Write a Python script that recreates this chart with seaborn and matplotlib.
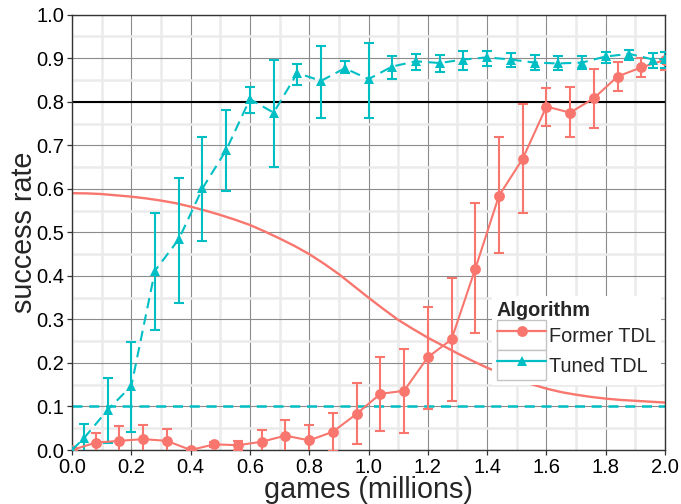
import numpy as np
import pandas as pd
import matplotlib
matplotlib.use("Agg")
import matplotlib.pyplot as plt
from matplotlib.lines import Line2D
from matplotlib.patches import Rectangle
from matplotlib.legend_handler import HandlerLine2D
from matplotlib.ticker import MultipleLocator, FormatStrFormatter
import seaborn as sns

# success rate, games in millions
former_games = [0.00, 0.08, 0.16, 0.24, 0.32, 0.40, 0.48, 0.56, 0.64, 0.72, 0.80, 0.88, 0.96,
                1.04, 1.12, 1.20, 1.28, 1.36, 1.44, 1.52, 1.60, 1.68, 1.76, 1.84, 1.92, 2.00]
former_rate = [0.000, 0.017, 0.021, 0.025, 0.021, 0.000, 0.013, 0.011, 0.019, 0.033, 0.022, 0.042, 0.083,
               0.129, 0.136, 0.213, 0.254, 0.416, 0.584, 0.669, 0.789, 0.775, 0.808, 0.858, 0.879, 0.896]
former_low = [0.000, -0.006, -0.012, -0.007, -0.006, 0.000, 0.007, 0.001, -0.007, -0.004, -0.014, -0.002, 0.014,
              0.044, 0.038, 0.095, 0.113, 0.268, 0.452, 0.544, 0.744, 0.718, 0.739, 0.825, 0.858, 0.873]
former_high = [0.000, 0.040, 0.054, 0.057, 0.048, 0.000, 0.019, 0.021, 0.045, 0.070, 0.058, 0.086, 0.153,
               0.214, 0.232, 0.329, 0.394, 0.567, 0.718, 0.795, 0.831, 0.833, 0.875, 0.891, 0.900, 0.915]

tuned_games = [0.00, 0.04, 0.12, 0.20, 0.28, 0.36, 0.44, 0.52, 0.60, 0.68, 0.76, 0.84, 0.92, 1.00,
               1.08, 1.16, 1.24, 1.32, 1.40, 1.48, 1.56, 1.64, 1.72, 1.80, 1.88, 1.96, 2.00]
tuned_rate = [0.000, 0.027, 0.092, 0.147, 0.412, 0.484, 0.601, 0.689, 0.806, 0.775, 0.866, 0.848, 0.877, 0.852,
              0.881, 0.893, 0.889, 0.897, 0.902, 0.897, 0.890, 0.888, 0.890, 0.904, 0.910, 0.897, 0.898]
tuned_low = [0.000, -0.006, 0.015, 0.042, 0.276, 0.337, 0.481, 0.595, 0.774, 0.649, 0.839, 0.762, 0.865, 0.762,
             0.853, 0.874, 0.868, 0.873, 0.882, 0.879, 0.872, 0.872, 0.875, 0.890, 0.895, 0.877, 0.878]
tuned_high = [0.000, 0.060, 0.166, 0.247, 0.544, 0.625, 0.718, 0.780, 0.835, 0.896, 0.887, 0.929, 0.894, 0.934,
              0.905, 0.910, 0.908, 0.917, 0.917, 0.913, 0.908, 0.906, 0.905, 0.915, 0.919, 0.911, 0.915]

# smooth reference curve, read every 0.05
curve_games = [0.00, 0.05, 0.10, 0.15, 0.20, 0.25, 0.30, 0.35, 0.40, 0.45, 0.50, 0.55, 0.60, 0.65,
               0.70, 0.75, 0.80, 0.85, 0.90, 0.95, 1.00, 1.05, 1.10, 1.15, 1.20, 1.25, 1.30, 1.35,
               1.40, 1.45, 1.50, 1.55, 1.60, 1.65, 1.70, 1.75, 1.80, 1.85, 1.90, 1.95, 2.00]
curve_rate = [0.590, 0.5895, 0.588, 0.585, 0.582, 0.578, 0.573, 0.567, 0.559, 0.550, 0.540, 0.529, 0.517, 0.502,
              0.486, 0.469, 0.450, 0.428, 0.404, 0.377, 0.350, 0.324, 0.299, 0.278, 0.258, 0.240, 0.222, 0.205,
              0.189, 0.175, 0.162, 0.151, 0.141, 0.133, 0.127, 0.122, 0.118, 0.115, 0.113, 0.111, 0.109]

target_rate = 0.8
baseline_rate = 0.1

RED = "#F8766D"
CYAN = "#00BFC4"

sns.set_style("white")
plt.rcParams["font.family"] = ["Liberation Sans", "DejaVu Sans"]

df = pd.DataFrame({
    "games": former_games + tuned_games,
    "rate": former_rate + tuned_rate,
    "Algorithm": ["Former TDL"] * len(former_games) + ["Tuned TDL"] * len(tuned_games),
})

fig = plt.figure(figsize=(6.81, 5.04), dpi=100)
ax = fig.add_axes([72 / 681, 54 / 504, 593 / 681, 435.3 / 504])

ax.axhline(target_rate, color="black", lw=1.5, zorder=2)
ax.axhline(baseline_rate, color=CYAN, lw=1.8, ls=(0, (4, 2.7)), zorder=2)
ax.plot(curve_games, curve_rate, color=RED, lw=1.7, zorder=2)

for g, r, lo, hi, col in [(former_games, former_rate, former_low, former_high, RED),
                          (tuned_games, tuned_rate, tuned_low, tuned_high, CYAN)]:
    r = np.array(r)
    ax.errorbar(g, r, yerr=[r - np.array(lo), np.array(hi) - r], fmt="none", ecolor=col,
                elinewidth=1.5, capsize=3.5, capthick=1.5, zorder=3)

sns.lineplot(data=df, x="games", y="rate", hue="Algorithm", style="Algorithm",
             palette={"Former TDL": RED, "Tuned TDL": CYAN},
             markers={"Former TDL": "o", "Tuned TDL": "^"},
             dashes={"Former TDL": "", "Tuned TDL": (5, 3)},
             markersize=7.8, markeredgewidth=0, linewidth=1.5,
             errorbar=None, legend=False, ax=ax, zorder=4)

ax.set_xlim(0, 2)
ax.set_ylim(0, 1)
ax.xaxis.set_major_locator(MultipleLocator(0.2))
ax.xaxis.set_minor_locator(MultipleLocator(0.1))
ax.yaxis.set_major_locator(MultipleLocator(0.1))
ax.yaxis.set_minor_locator(MultipleLocator(0.05))
ax.xaxis.set_major_formatter(FormatStrFormatter("%.1f"))
ax.yaxis.set_major_formatter(FormatStrFormatter("%.1f"))

ax.set_axisbelow(True)
ax.grid(which="minor", color="#ebebeb", lw=1.8)
ax.grid(which="major", color="#8c8c8c", lw=0.8)
ax.tick_params(which="major", bottom=True, left=True, length=3.5, width=0.9, color="#333333",
               labelsize=14.5, labelcolor="black", pad=2)
ax.tick_params(which="minor", length=0)
for s in ax.spines.values():
    s.set_color("#333333")
    s.set_linewidth(1.0)

ax.set_xlabel("games (millions)", fontsize=20.7, labelpad=-0.5)
ax.set_ylabel("success rate", fontsize=20.7, labelpad=-1.5)


class BoxedLine(HandlerLine2D):
    # ggplot-like legend key: grey-bordered box behind the line
    def create_artists(self, legend, orig_handle, xdescent, ydescent, width, height, fontsize, trans):
        box = Rectangle((-xdescent, -ydescent), width, height, facecolor="white",
                        edgecolor="#c4c4c4", lw=1.0, transform=trans, zorder=0)
        arts = super().create_artists(legend, orig_handle, xdescent, ydescent, width, height, fontsize, trans)
        return [box] + list(arts)


handles = [Line2D([], [], color=RED, lw=1.6, marker="o", ms=7.8, mew=0),
           Line2D([], [], color=CYAN, lw=1.6, marker="^", ms=7.8, mew=0)]
leg = ax.legend(handles, ["Former TDL", "Tuned TDL"], title="Algorithm",
                loc="upper left", bbox_to_anchor=(0.708, 0.353),
                handler_map={Line2D: BoxedLine(numpoints=1)},
                handlelength=2.5, handleheight=1.95, labelspacing=0, handletextpad=0.15,
                borderpad=0.25, borderaxespad=0, fontsize=14.3,
                title_fontproperties={"weight": "bold", "size": 14.3}, alignment="left",
                frameon=True, fancybox=False, edgecolor="none", facecolor="white", framealpha=1)
leg.set_zorder(10)

fig.savefig("out.png", dpi=100)
